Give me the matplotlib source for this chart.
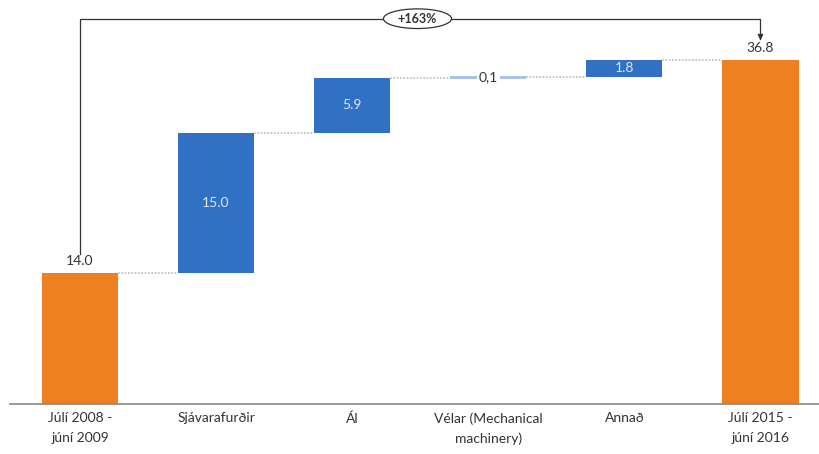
import numpy as np
import matplotlib.pyplot as plt
from matplotlib.patches import Ellipse

plt.rcParams['font.family'] = ['Lato', 'DejaVu Sans']

categories = ["Júlí 2008 -\njúní 2009", "Sjávarafurðir", "Ál",
              "Vélar (Mechanical\nmachinery)", "Annað", "Júlí 2015 -\njúní 2016"]
values = [14.0, 15.0, 5.9, 0.1, 1.8, 36.8]
value_labels = ["14.0", "15.0", "5.9", "0,1", "1.8", "36.8"]
is_total = [True, False, False, False, False, True]
change_label = "+163%"

orange = "#F07F22"
blue = "#3071C4"
light_blue = "#A9C3E8"

fig = plt.figure(figsize=(8.19, 4.54), dpi=100)
ax = fig.add_axes([0.012, 50 / 454, 0.988, 404 / 454])

x = np.arange(len(categories))
w = 0.56
bottoms = []
running = 0.0
for i, v in enumerate(values):
    if is_total[i]:
        bottoms.append(0.0)
        running = v
    else:
        bottoms.append(running)
        running += v

for i, v in enumerate(values):
    if is_total[i]:
        color = orange
    elif v < 0.5:
        color = light_blue
    else:
        color = blue
    ax.bar(x[i], v if v >= 0.5 else 0.3, w, bottom=bottoms[i] if v >= 0.5 else bottoms[i] - 0.1,
           color=color, zorder=2)
    top = bottoms[i] + v
    if is_total[i]:
        ax.text(x[i], top + 0.6, value_labels[i], ha='center', va='bottom',
                fontsize=10, color='#333333')
    elif v < 0.5:
        ax.text(x[i], top, value_labels[i], ha='center', va='center', fontsize=10,
                color='#333333', zorder=3,
                bbox=dict(boxstyle='square,pad=0.15', fc='white', ec='none'))
    else:
        ax.text(x[i], bottoms[i] + v / 2, value_labels[i], ha='center', va='center',
                fontsize=10, color='#DDE6F5', zorder=3)

# connector lines
for i in range(len(values) - 1):
    level = bottoms[i] + values[i]
    ax.plot([x[i] + w / 2, x[i + 1] - w / 2], [level, level], color='#BBBBBB',
            lw=1.2, ls=(0, (1, 1)), zorder=1)

# growth bracket
y_br = 41.2
ax.plot([x[0], x[0], x[-1], x[-1]], [16.0, y_br, y_br, 39.0], color='#333333', lw=0.9, zorder=1)
ax.annotate("", xy=(x[-1], 38.6), xytext=(x[-1], 39.8),
            arrowprops=dict(arrowstyle='-|>', color='#333333', lw=0.9, mutation_scale=8))
xm = 2.48
ax.add_patch(Ellipse((xm, y_br), 0.5, 2.1, fc='white', ec='#333333', lw=0.9, zorder=3))
ax.text(xm, y_br, change_label, ha='center', va='center', fontsize=9,
        fontweight='bold', color='#333333', zorder=4)

ax.set_xlim(-0.515, 5.43)
ax.set_ylim(0, 43.2)
ax.set_xticks(x)
ax.set_xticklabels(categories, fontsize=10, color='#333333', linespacing=1.75)
ax.tick_params(axis='x', length=0, pad=6)
ax.set_yticks([])
for s in ['top', 'left', 'right']:
    ax.spines[s].set_visible(False)
ax.spines['bottom'].set_color('#888888')
ax.spines['bottom'].set_linewidth(1.2)

fig.savefig("out.png", dpi=100)
